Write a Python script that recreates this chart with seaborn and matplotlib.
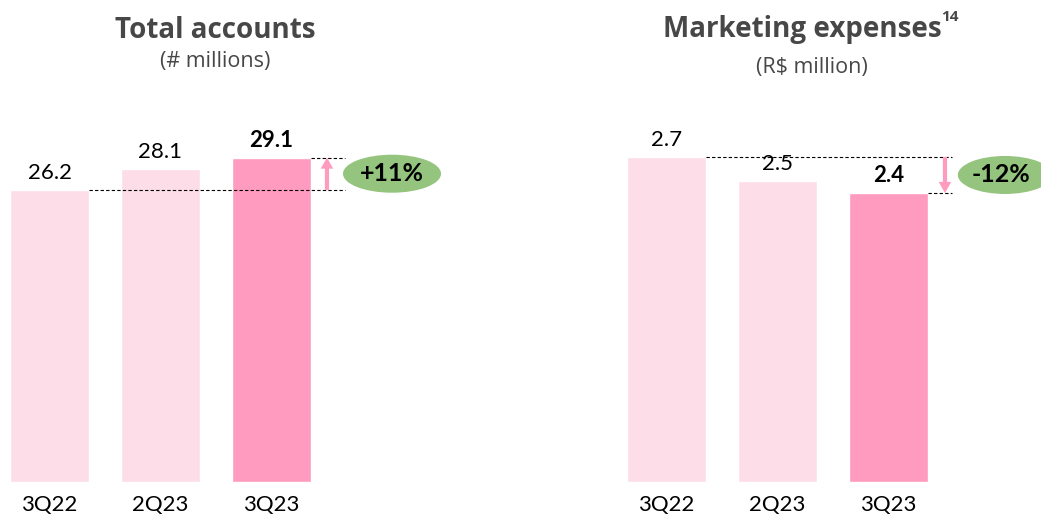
import matplotlib.pyplot as plt
import seaborn as sns
from matplotlib.patches import Ellipse

quarters = ["3Q22", "2Q23", "3Q23"]
accounts = [26.2, 28.1, 29.1]
marketing = [2.7, 2.5, 2.4]
accounts_change = "+11%"
marketing_change = "-12%"

light_pink = "#FDDDE8"
dark_pink = "#FE9BBE"
green = "#94C47D"
title_grey = "#474747"

sns.set_style("white")
plt.rcParams["font.family"] = ["Lato", "DejaVu Sans"]
title_font = ["Open Sans", "DejaVu Sans"]

W, H = 1041, 516
fig = plt.figure(figsize=(W / 100, H / 100), dpi=100)


def px_axes(x0, x1, y_top, y_bot):
    return fig.add_axes([x0 / W, 1 - y_bot / H, (x1 - x0) / W, (y_bot - y_top) / H])


def draw_panel(ax, values, ymax, xlim, change, arrow_x, dash_end, ell_x, ell_w, ell_h):
    colors = [light_pink, light_pink, dark_pink]
    sns.barplot(x=quarters, y=values, hue=quarters, palette=colors, legend=False,
                width=0.71, saturation=1, ax=ax)
    ax.set_xlim(*xlim)
    ax.set_ylim(0, ymax)
    sns.despine(ax=ax, left=True, bottom=True)
    ax.set_yticks([])
    ax.set_xlabel("")
    ax.set_ylabel("")
    ax.tick_params(axis="x", length=0, pad=9, labelsize=16, labelcolor="black")
    for i, v in enumerate(values):
        ax.annotate(f"{v:.1f}", xy=(i, v), xytext=(0, 5), textcoords="offset points",
                    ha="center", va="bottom", fontsize=16, color="black",
                    fontweight="bold" if i == 2 else "normal")
    first, last = values[0], values[-1]
    # dashed reference lines
    ax.plot([0.355, dash_end], [first, first], ls=(0, (3, 2)), color="black", lw=0.8)
    ax.plot([2.355, dash_end], [last, last], ls=(0, (3, 2)), color="black", lw=0.8)
    ax.annotate("", xy=(arrow_x, last), xytext=(arrow_x, first),
                arrowprops=dict(width=3, headwidth=9, headlength=8, color=dark_pink,
                                shrink=0, lw=0))
    ey = (first + last) / 2
    ax.add_patch(Ellipse((ell_x, ey), ell_w, ell_h, color=green, lw=0, clip_on=True))
    ax.text(ell_x - 0.04 if change.startswith("-") else ell_x, ey, change, ha="center",
            va="center", fontsize=18, fontweight="bold", color="black")


ax1 = px_axes(0, 500, 100, 482)
draw_panel(ax1, accounts, 382 / 11.15, (-0.446, 4.059), accounts_change,
           2.5, 2.66, 3.086, 0.883, 38 / 11.15)

ax2 = px_axes(560, 1041, 100, 482)
draw_panel(ax2, marketing, 382 / 120.4, (-0.959, 3.374), marketing_change,
           2.509, 2.57, 3.05, 0.85, 38 / 120.4)

fig.text(215 / W, 1 - 30 / H, "Total accounts", ha="center", va="center",
         fontsize=20, fontweight="bold", color=title_grey, family=title_font)
fig.text(215 / W, 1 - 62 / H, "(# millions)", ha="center", va="center",
         fontsize=15.5, color=title_grey, family=title_font)
t2 = fig.text(802 / W, 1 - 30 / H, "Marketing expenses", ha="center", va="center",
              fontsize=20, fontweight="bold", color=title_grey, family=title_font)
fig.text(812 / W, 1 - 68 / H, "(R\\$ million)", ha="center", va="center",
         fontsize=15.5, color=title_grey, family=title_font)
ax2.annotate("14", xy=(1, 0.7), xycoords=t2, xytext=(0, 0), textcoords="offset points",
             ha="left", va="bottom", fontsize=11, fontweight="bold", color=title_grey,
             family=title_font, annotation_clip=False)

fig.savefig("out.png", dpi=100)
